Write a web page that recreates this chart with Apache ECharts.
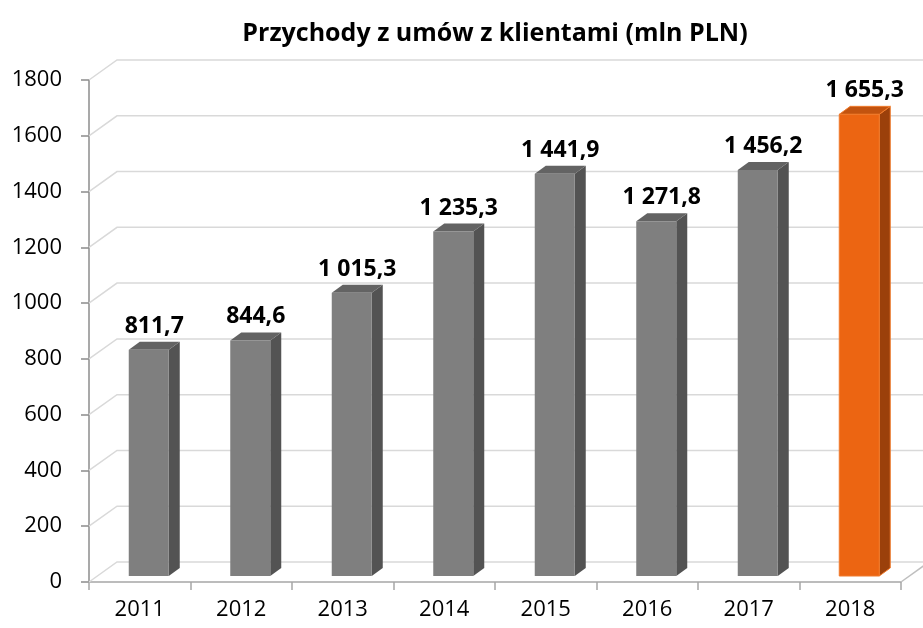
<!DOCTYPE html>
<html>
<head>
<meta charset="utf-8">
<script src="https://cdn.jsdelivr.net/npm/echarts@6/dist/echarts.min.js"></script>
<style>
  html, body { margin: 0; padding: 0; background: #fff; }
  #chart { width: 923px; height: 628px; }
</style>
</head>
<body>
<div id="chart"></div>
<script>
// lata i przychody (mln PLN)
const years = ['2011', '2012', '2013', '2014', '2015', '2016', '2017', '2018']
const revenue = [811.7, 844.6, 1015.3, 1235.3, 1441.9, 1271.8, 1456.2, 1655.3]
const yTicks = [0, 200, 400, 600, 800, 1000, 1200, 1400, 1600, 1800]

const FONT = '"Open Sans", Lato, sans-serif'
// przesunięcie "głębi" tylnej ściany
const DEPTH_X = 28
const DEPTH_Y = -20

const fmt = (v) => {
  const parts = v.toFixed(1).split('.')
  const intPart = parts[0].replace(/\B(?=(\d{3})+(?!\d))/g, ' ')
  return intPart + ',' + parts[1]
}

const chart = echarts.init(document.getElementById('chart'))

// siatka na tylnej ścianie + podłoga
const renderGrid = (params, api) => {
  const cs = params.coordSys
  const v = api.value(0)
  const y = api.coord([0, v])[1]
  const children = [{
    type: 'polyline',
    shape: { points: [[cs.x, y], [cs.x + DEPTH_X, y + DEPTH_Y], [cs.x + cs.width + DEPTH_X, y + DEPTH_Y]] },
    style: { stroke: '#d9d9d9', lineWidth: 1.5, fill: null }
  }]
  if (v === 0) {
    children.push({
      type: 'line',
      shape: { x1: cs.x + cs.width, y1: y, x2: cs.x + cs.width + DEPTH_X, y2: y + DEPTH_Y },
      style: { stroke: '#bfbfbf', lineWidth: 1.5 }
    })
  }
  return { type: 'group', children }
}

// słupki 3D
const renderBar = (params, api) => {
  const idx = api.value(0)
  const val = api.value(1)
  const base = api.coord([idx, 0])
  const top = api.coord([idx, val])
  const bw = 40, side = 11, topH = 8
  const x0 = base[0] - 11
  const x1 = x0 + bw
  const yb = base[1] - 6
  const yt = top[1] - 6
  const hi = idx === years.length - 1
  const cFront = hi ? '#ec6512' : '#7f7f7f'
  const cSide = hi ? '#9b400b' : '#535353'
  const cTop = hi ? '#c2530f' : '#636363'
  return {
    type: 'group',
    children: [
      {
        type: 'polygon',
        shape: { points: [[x1, yb], [x1 + side, yb - topH], [x1 + side, yt - topH], [x1, yt]] },
        style: { fill: cSide, stroke: hi ? '#f07b2c' : null, lineWidth: 1 }
      },
      {
        type: 'polygon',
        shape: { points: [[x0, yt], [x0 + side, yt - topH], [x1 + side, yt - topH], [x1, yt]] },
        style: { fill: cTop, stroke: hi ? '#f07b2c' : null, lineWidth: 1 }
      },
      {
        type: 'rect',
        shape: { x: x0, y: yt, width: bw, height: yb - yt },
        style: { fill: cFront, stroke: hi ? '#f07b2c' : null, lineWidth: 1 }
      },
      {
        type: 'text',
        style: {
          text: fmt(val),
          x: (x0 + x1 + side) / 2,
          y: yt - topH - 4,
          align: 'center',
          verticalAlign: 'bottom',
          font: 'bold 23px ' + FONT,
          fill: '#000'
        }
      }
    ]
  }
}

chart.setOption({
  animation: false,
  title: {
    text: 'Przychody z umów z klientami (mln PLN)',
    left: 490,
    textAlign: 'center',
    top: 16,
    textStyle: { fontFamily: FONT, fontSize: 25, fontWeight: 'bold', color: '#000' }
  },
  grid: { left: 89, right: 22, top: 80, bottom: 46 },
  xAxis: {
    type: 'category',
    data: years,
    axisLine: { lineStyle: { color: '#a6a6a6', width: 1.5 } },
    axisTick: { show: true, length: 8, lineStyle: { color: '#a6a6a6', width: 1.5 } },
    axisLabel: { color: '#000', fontSize: 22, fontFamily: FONT, margin: 17 },
    splitLine: { show: false }
  },
  yAxis: {
    type: 'value',
    min: 0,
    max: 1800,
    interval: 200,
    axisLine: { show: true, lineStyle: { color: '#8c8c8c', width: 1.5 } },
    axisTick: { show: true, length: 8, lineStyle: { color: '#8c8c8c', width: 1.5 } },
    axisLabel: { color: '#000', fontSize: 22, fontFamily: FONT, margin: 27, formatter: (v) => String(v) },
    splitLine: { show: false }
  },
  series: [
    {
      type: 'custom',
      z: 1,
      silent: true,
      renderItem: renderGrid,
      encode: { y: 0 },
      data: yTicks.map(v => [v])
    },
    {
      type: 'custom',
      z: 2,
      renderItem: renderBar,
      encode: { x: 0, y: 1 },
      data: revenue.map((v, i) => [i, v])
    }
  ]
})
</script>
</body>
</html>
